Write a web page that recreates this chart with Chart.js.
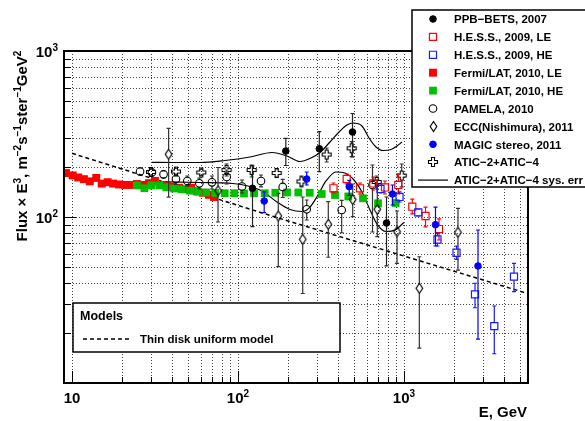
<!DOCTYPE html>
<html>
<head>
<meta charset="utf-8">
<script src="https://cdn.jsdelivr.net/npm/chart.js@4.4.0/dist/chart.umd.min.js"></script>
<style>
  html, body { margin: 0; padding: 0; background: #fff; }
  #wrap { width: 585px; height: 421px; }
</style>
</head>
<body>
<div id="wrap"><canvas id="spectrum" width="585" height="421"></canvas></div>
<script>
// Electron spectrum E^3 * flux (m^-2 s^-1 sr^-1 GeV^2) against energy (GeV)

const xRange = [8.95, 5585];
const yRange = [10, 1000];
const xTickLabels = [[10, '10', ''], [100, '10', '2'], [1000, '10', '3']];
const yTickLabels = [[100, '10', '2'], [1000, '10', '3']];

const fermiLeE = [9.2, 10.1, 10.9, 11.8, 12.8, 14.0, 15.1, 16.4, 17.7, 19.2, 20.9, 22.7, 24.6, 26.8, 29.1, 31.6, 34.4, 37.4, 40.6, 44.1, 47.9, 52.1, 56.6, 61.5, 66.9, 71.7];
const fermiLeFlux = [184, 178, 173, 169, 164, 172, 159, 162, 159, 157, 156, 156, 158, 156, 160, 165, 156, 154, 152, 150, 147, 150, 143, 140, 136, 132];

const fermiHeE = [24.6, 27.3, 30.1, 33.6, 37.0, 41.2, 45.8, 51.4, 57.4, 64.4, 73.0, 83.2, 95.0, 108.7, 124.9, 144.8, 167.8, 197.3, 230.8, 270.4, 319.4, 384.0, 461.9, 566.2, 697.3, 891.3];
const fermiHeFlux = [155, 149, 155, 155, 151, 148.5, 147, 144, 142, 140.5, 139.5, 139, 139, 138.5, 139, 139, 140, 140.5, 140.5, 140, 137.6, 135.7, 133, 129.6, 121, 121.4];

const ppbE = [122.3, 194.1, 308.9, 489.6, 784.6];
const ppbFlux = [148.9, 249.8, 257.9, 325.1, 92.0];
const ppbHi = [202.9, 297.9, 326.5, 420.2, 132.0];
const ppbLo = [87.4, 204.3, 187.5, 229.9, 50.7];

const hessLeE = [376.1, 451.7, 543.2, 653.1, 768.3, 924.2, 1122, 1348, 1625];
const hessLeFlux = [148.9, 169.4, 148.9, 159.2, 150.6, 155.9, 115.3, 101.4, 84.6];
const hessLeHi = [160.3, 181.6, 160.3, 174.2, 164.8, 181.6, 128.3, 114.8, 97.3];
const hessLeLo = [139.5, 158.1, 137.6, 145.4, 137.6, 137.6, 104.3, 87.1, 72.7];

const hessHeE = [721.8, 939.6, 1219, 1591, 2072, 2678, 3499, 4599];
const hessHeFlux = [147.5, 132.0, 106.7, 73.2, 60.9, 34.2, 22.0, 43.7];
const hessHeHi = [155.9, 141.5, 111.7, 80.1, 66.9, 39.9, 29.1, 52.6];
const hessHeLo = [139.5, 123.1, 101.4, 66.9, 55.5, 28.4, 15.0, 35.5];

const magicE = [143.8, 259.4, 467.7, 852.5, 1548, 2791];
const magicFlux = [124.8, 169.4, 152.3, 137.6, 89.9, 50.7];
const magicHi = [141.5, 186.7, 166.0, 155.9, 114.8, 83.5];
const magicLo = [106.4, 155.9, 134.8, 118.1, 66.9, 18.4];

const pamelaE = [25.7, 30.3, 35.6, 42.3, 49.5, 58.5, 69.7, 85.5, 105.7, 137.6, 185.9, 259.4, 421.3, 646.0];
const pamelaFlux = [187.9, 185.4, 180.7, 169.4, 164.8, 159.6, 161.8, 174.2, 152.7, 164.8, 151.7, 111.3, 110.2, 155.9];
const pamelaHi = [197.3, 194.6, 189.5, 181.6, 176.6, 171.8, 176.6, 191.9, 167.1, 179.1, 168.7, 126.6, 125.8, 205.7];
const pamelaLo = [179.1, 176.6, 171.8, 157.0, 153.8, 147.5, 147.5, 158.1, 139.5, 151.7, 131.1, 95.9, 80.4, 81.2];

const eccE = [38.2, 75.8, 174.9, 245.4, 349.9, 490.9, 690.6, 907.7, 1237, 2115];
const eccFlux = [238.9, 144.0, 101.4, 73.4, 90.4, 127.4, 111.3, 81.6, 37.2, 80.9];
const eccHi = [342.1, 198.7, 138.9, 132.0, 123.6, 158.1, 167.1, 108.7, 57.6, 112.8];
const eccLo = [131.6, 93.3, 50.2, 34.6, 57.2, 100.4, 76.1, 52.6, 16.2, 47.9];

const aticE = [29.9, 42.3, 60.1, 85.3, 120.9, 171.0, 241.2, 342.1, 484.0, 684.7, 968.5];
const aticFlux = [186.7, 187.9, 185.4, 191.9, 191.9, 184.1, 163.7, 237.9, 259.4, 162.5, 177.8];
const aticHi = [194.6, 196.0, 193.3, 208.6, 205.7, 194.6, 176.6, 260.4, 284.3, 176.6, 208.6];
const aticLo = [179.1, 180.3, 177.8, 176.6, 174.2, 174.2, 151.7, 214.5, 230.9, 147.5, 151.7];

// ATIC systematic band, upper and lower edges
const sysUpE = [30.3, 41.7, 59.0, 83.5, 118.1, 160.3, 197.3, 236.3, 271.5, 311.9, 358.3, 411.6, 453.6, 492.9, 558.5, 615.5, 678.2, 747.3, 835.0, 907.7, 972.7];
const sysUpFlux = [213.5, 213.0, 213.0, 219.0, 229.9, 244.7, 233.1, 215.9, 225.1, 244.7, 283.1, 329.6, 358.3, 368.4, 353.3, 299.2, 264.0, 251.5, 255.0, 267.7, 283.1];
const sysLoE = [30.3, 59.0, 93.3, 114.9, 139.5, 171.7, 205.7, 242.9, 271.5, 303.4, 338.9, 389.3, 441.1, 499.7, 558.5, 624.1, 687.7, 779.0, 882.6, 1000];
const sysLoFlux = [163.2, 161.4, 159.2, 153.8, 143.4, 123.1, 110.9, 107.9, 114.8, 135.7, 164.8, 186.7, 184.1, 167.1, 141.5, 110.2, 90.7, 81.8, 83.5, 92.7];

// thin disk uniform model
const modelE = [10, 63.2, 167.1, 1197, 5508];
const modelFlux = [241.9, 135.7, 100, 55.1, 34.7];

const FONT = '"Liberation Sans", Arial, Helvetica, sans-serif';

function points(xs, ys) {
  return xs.map((x, i) => ({ x: x, y: ys[i] }));
}

// open diamond marker
function diamondMarker() {
  const c = document.createElement('canvas');
  c.width = 11; c.height = 15;
  const g = c.getContext('2d');
  g.strokeStyle = '#000';
  g.lineWidth = 1.2;
  g.beginPath();
  g.moveTo(5.5, 2.5); g.lineTo(8.8, 7.5); g.lineTo(5.5, 12.5); g.lineTo(2.2, 7.5);
  g.closePath();
  g.stroke();
  return c;
}

// open cross marker
function crossMarker() {
  const c = document.createElement('canvas');
  c.width = 12; c.height = 12;
  const g = c.getContext('2d');
  g.strokeStyle = '#000';
  g.lineWidth = 1.1;
  const pts = [[4.5, 1.5], [7.5, 1.5], [7.5, 4.5], [10.5, 4.5], [10.5, 7.5], [7.5, 7.5],
    [7.5, 10.5], [4.5, 10.5], [4.5, 7.5], [1.5, 7.5], [1.5, 4.5], [4.5, 4.5]];
  g.beginPath();
  pts.forEach((p, i) => i ? g.lineTo(p[0], p[1]) : g.moveTo(p[0], p[1]));
  g.closePath();
  g.stroke();
  return c;
}

const diamond = diamondMarker();
const openCross = crossMarker();

// text with superscripts: parts are [text, size, rise]
function richWidth(ctx, parts) {
  let w = 0;
  parts.forEach(p => {
    ctx.font = 'bold ' + p[1] + 'px ' + FONT;
    w += ctx.measureText(p[0]).width;
  });
  return w;
}

function drawRich(ctx, parts, x, y, align) {
  const w = richWidth(ctx, parts);
  let cx = align === 'center' ? x - w / 2 : (align === 'right' ? x - w : x);
  ctx.textAlign = 'left';
  ctx.textBaseline = 'alphabetic';
  parts.forEach(p => {
    ctx.font = 'bold ' + p[1] + 'px ' + FONT;
    ctx.fillText(p[0], cx, y - (p[2] || 0));
    cx += ctx.measureText(p[0]).width;
  });
}

function logTicks(min, max) {
  const out = [];
  for (let d = Math.pow(10, Math.floor(Math.log10(min))); d <= max; d *= 10) {
    for (let k = 1; k <= 9; k++) {
      const v = k * d;
      if (v > min && v < max) out.push({ v: v, major: k === 1 });
    }
  }
  return out;
}

// vertical error bars, drawn under each dataset's markers
const errorBars = {
  id: 'errorBars',
  beforeDatasetDraw(chart, args) {
    const ds = chart.data.datasets[args.index];
    if (!ds.errHigh) return;
    const ctx = chart.ctx;
    const xs = chart.scales.x, ys = chart.scales.y;
    ctx.save();
    ctx.strokeStyle = ds.errColor;
    ctx.lineWidth = 1.2;
    ds.data.forEach((p, i) => {
      const px = xs.getPixelForValue(p.x);
      const py = ys.getPixelForValue(p.y);
      const top = ys.getPixelForValue(ds.errHigh[i]);
      const bot = ys.getPixelForValue(ds.errLow[i]);
      const gap = ds.errGap;
      ctx.beginPath();
      if (py - gap > top) { ctx.moveTo(px, top); ctx.lineTo(px, py - gap); }
      if (py + gap < bot) { ctx.moveTo(px, py + gap); ctx.lineTo(px, bot); }
      ctx.moveTo(px - 2, top); ctx.lineTo(px + 2, top);
      ctx.moveTo(px - 2, bot); ctx.lineTo(px + 2, bot);
      ctx.stroke();
    });
    ctx.restore();
  }
};

function drawMark(ctx, ds, x, y) {
  if (ds.showLine) {
    ctx.save();
    ctx.strokeStyle = ds.borderColor;
    ctx.lineWidth = ds.borderWidth;
    ctx.setLineDash(ds.borderDash || []);
    ctx.beginPath();
    ctx.moveTo(x - 15, y); ctx.lineTo(x + 15, y);
    ctx.stroke();
    ctx.restore();
    return;
  }
  if (typeof ds.pointStyle === 'object') {
    ctx.drawImage(ds.pointStyle, Math.round(x - ds.pointStyle.width / 2), Math.round(y - ds.pointStyle.height / 2));
    return;
  }
  ctx.save();
  ctx.fillStyle = ds.pointBackgroundColor;
  ctx.strokeStyle = ds.pointBorderColor;
  ctx.lineWidth = ds.pointBorderWidth;
  ctx.beginPath();
  if (ds.pointStyle === 'rect') {
    const s = ds.pointRadius * Math.SQRT1_2;
    ctx.rect(x - s, y - s, 2 * s, 2 * s);
  } else {
    ctx.arc(x, y, ds.pointRadius, 0, Math.PI * 2);
  }
  ctx.fill();
  if (ds.pointBorderWidth > 0) ctx.stroke();
  ctx.restore();
}

// grid, frame, axis labels, model box and legend
const frame = {
  id: 'frame',
  beforeDatasetsDraw(chart) {
    const ctx = chart.ctx, a = chart.chartArea;
    const xs = chart.scales.x, ys = chart.scales.y;
    ctx.save();
    ctx.strokeStyle = '#444';
    ctx.lineWidth = 1;
    ctx.setLineDash([1, 2]);
    logTicks(xRange[0], xRange[1]).forEach(t => {
      const px = Math.round(xs.getPixelForValue(t.v)) + 0.5;
      ctx.beginPath(); ctx.moveTo(px, a.top); ctx.lineTo(px, a.bottom); ctx.stroke();
    });
    logTicks(yRange[0], yRange[1]).forEach(t => {
      const py = Math.round(ys.getPixelForValue(t.v)) + 0.5;
      ctx.beginPath(); ctx.moveTo(a.left, py); ctx.lineTo(a.right, py); ctx.stroke();
    });
    ctx.restore();
  },
  afterDatasetsDraw(chart) {
    const ctx = chart.ctx, a = chart.chartArea;
    const xs = chart.scales.x, ys = chart.scales.y;
    ctx.save();
    ctx.strokeStyle = '#000';
    ctx.fillStyle = '#000';

    // axis ticks, pointing inwards
    ctx.lineWidth = 1;
    logTicks(xRange[0], xRange[1]).forEach(t => {
      const px = Math.round(xs.getPixelForValue(t.v)) + 0.5;
      ctx.beginPath(); ctx.moveTo(px, a.bottom); ctx.lineTo(px, a.bottom - (t.major ? 12 : 6)); ctx.stroke();
    });
    logTicks(yRange[0], yRange[1]).forEach(t => {
      const py = Math.round(ys.getPixelForValue(t.v)) + 0.5;
      ctx.beginPath(); ctx.moveTo(a.left, py); ctx.lineTo(a.left + (t.major ? 12 : 7), py); ctx.stroke();
    });

    ctx.lineWidth = 2;
    ctx.strokeRect(a.left, a.top, a.right - a.left, a.bottom - a.top);

    xTickLabels.forEach(t => {
      drawRich(ctx, [[t[1], 15], [t[2], 10, 6]], xs.getPixelForValue(t[0]), 403, 'center');
    });
    yTickLabels.forEach(t => {
      drawRich(ctx, [[t[1], 15], [t[2], 10, 6]], 58, ys.getPixelForValue(t[0]) + 6, 'right');
    });

    drawRich(ctx, [['E, GeV', 15]], 527, 417, 'right');

    ctx.save();
    ctx.translate(27, 146);
    ctx.rotate(-Math.PI / 2);
    drawRich(ctx, [['Flux \u00d7 E', 15], ['3', 10, 6], [', m', 15], ['\u22122', 10, 6], ['s', 15],
      ['\u22121', 10, 6], ['ster', 15], ['\u22121', 10, 6], ['GeV', 15], ['2', 10, 6]], 0, 0, 'center');
    ctx.restore();

    // models box
    const model = chart.data.datasets.find(d => d.modelLegend);
    ctx.fillStyle = '#fff';
    ctx.fillRect(73, 303, 267, 49);
    ctx.lineWidth = 1.5;
    ctx.strokeRect(73, 303, 267, 49);
    ctx.fillStyle = '#000';
    drawRich(ctx, [['Models', 12.5]], 80, 320, 'left');
    ctx.save();
    ctx.strokeStyle = model.borderColor;
    ctx.lineWidth = model.borderWidth;
    ctx.setLineDash(model.borderDash);
    ctx.beginPath(); ctx.moveTo(83, 339); ctx.lineTo(130, 339); ctx.stroke();
    ctx.restore();
    drawRich(ctx, [[model.label, 11.5]], 140, 343, 'left');

    // data legend
    ctx.fillStyle = '#fff';
    ctx.fillRect(412, 10, 180, 177);
    ctx.lineWidth = 1.5;
    ctx.strokeRect(412, 10, 180, 177);
    chart.data.datasets
      .filter(d => d.legendRow !== undefined)
      .forEach(d => {
        const y = 19 + d.legendRow * 17.9;
        drawMark(ctx, d, 433, y);
        ctx.fillStyle = '#000';
        drawRich(ctx, [[d.label, 11.5]], 454, y + 4.2, 'left');
      });
    ctx.restore();
  }
};

const datasets = [
  {
    label: 'Thin disk uniform model', modelLegend: true, order: 10,
    data: points(modelE, modelFlux), showLine: true,
    borderColor: '#000', borderWidth: 1.5, borderDash: [4, 3], pointRadius: 0
  },
  {
    label: 'ATIC\u22122+ATIC\u22124 sys. err', legendRow: 9, order: 9,
    data: points(sysUpE, sysUpFlux), showLine: true, cubicInterpolationMode: 'monotone',
    borderColor: '#000', borderWidth: 1.2, pointRadius: 0
  },
  {
    label: 'sys low', order: 9,
    data: points(sysLoE, sysLoFlux), showLine: true, cubicInterpolationMode: 'monotone',
    borderColor: '#000', borderWidth: 1.2, pointRadius: 0
  },
  {
    label: 'Fermi/LAT, 2010, LE', legendRow: 3, order: 8,
    data: points(fermiLeE, fermiLeFlux), showLine: false,
    pointStyle: 'rect', pointRadius: 5.6, pointBorderWidth: 0,
    pointBackgroundColor: '#ff0000', pointBorderColor: '#ff0000'
  },
  {
    label: 'Fermi/LAT, 2010, HE', legendRow: 4, order: 7,
    data: points(fermiHeE, fermiHeFlux), showLine: false,
    pointStyle: 'rect', pointRadius: 5.5, pointBorderWidth: 0,
    pointBackgroundColor: '#00c000', pointBorderColor: '#00c000'
  },
  {
    label: 'ECC(Nishimura), 2011', legendRow: 6, order: 6,
    data: points(eccE, eccFlux), showLine: false,
    pointStyle: diamond, pointRadius: 5,
    errHigh: eccHi, errLow: eccLo, errColor: '#333', errGap: 5
  },
  {
    label: 'PAMELA, 2010', legendRow: 5, order: 5,
    data: points(pamelaE, pamelaFlux), showLine: false,
    pointStyle: 'circle', pointRadius: 3.8, pointBorderWidth: 1.1,
    pointBackgroundColor: 'rgba(0,0,0,0)', pointBorderColor: '#000',
    errHigh: pamelaHi, errLow: pamelaLo, errColor: '#333', errGap: 3.8
  },
  {
    label: 'ATIC\u22122+ATIC\u22124', legendRow: 8, order: 4,
    data: points(aticE, aticFlux), showLine: false,
    pointStyle: openCross, pointRadius: 5,
    errHigh: aticHi, errLow: aticLo, errColor: '#333', errGap: 4.5
  },
  {
    label: 'H.E.S.S., 2009, LE', legendRow: 1, order: 3,
    data: points(hessLeE, hessLeFlux), showLine: false,
    pointStyle: 'rect', pointRadius: 5, pointBorderWidth: 1.2,
    pointBackgroundColor: 'rgba(0,0,0,0)', pointBorderColor: '#ff0000',
    errHigh: hessLeHi, errLow: hessLeLo, errColor: '#ff0000', errGap: 3.5
  },
  {
    label: 'H.E.S.S., 2009, HE', legendRow: 2, order: 2,
    data: points(hessHeE, hessHeFlux), showLine: false,
    pointStyle: 'rect', pointRadius: 5, pointBorderWidth: 1.2,
    pointBackgroundColor: 'rgba(0,0,0,0)', pointBorderColor: '#1a1aff',
    errHigh: hessHeHi, errLow: hessHeLo, errColor: '#1a1aff', errGap: 3.5
  },
  {
    label: 'MAGIC stereo, 2011', legendRow: 7, order: 1,
    data: points(magicE, magicFlux), showLine: false,
    pointStyle: 'circle', pointRadius: 3.3, pointBorderWidth: 1,
    pointBackgroundColor: '#0000ff', pointBorderColor: '#0000ff',
    errHigh: magicHi, errLow: magicLo, errColor: '#0000ff', errGap: 0
  },
  {
    label: 'PPB\u2212BETS, 2007', legendRow: 0, order: 0,
    data: points(ppbE, ppbFlux), showLine: false,
    pointStyle: 'circle', pointRadius: 3.3, pointBorderWidth: 1,
    pointBackgroundColor: '#000', pointBorderColor: '#000',
    errHigh: ppbHi, errLow: ppbLo, errColor: '#222', errGap: 0
  }
];

new Chart(document.getElementById('spectrum'), {
  type: 'scatter',
  data: { datasets: datasets },
  options: {
    responsive: false,
    animation: false,
    events: [],
    layout: { padding: { left: 64, top: 51, right: 57, bottom: 38 } },
    scales: {
      x: { type: 'logarithmic', min: xRange[0], max: xRange[1], display: false },
      y: { type: 'logarithmic', min: yRange[0], max: yRange[1], display: false }
    },
    plugins: {
      legend: { display: false },
      tooltip: { enabled: false }
    }
  },
  plugins: [errorBars, frame]
});
</script>
</body>
</html>
